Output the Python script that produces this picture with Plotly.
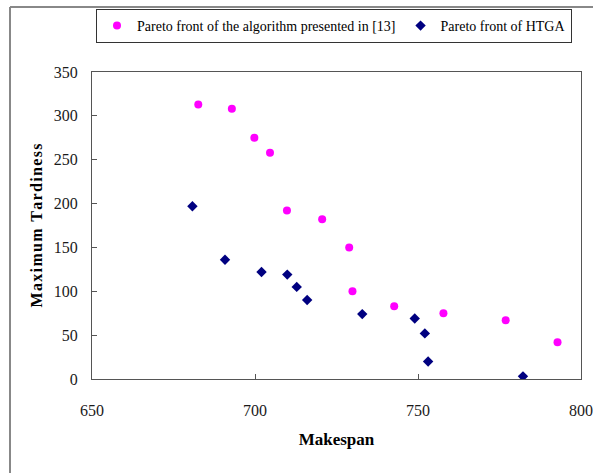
import plotly.graph_objects as go

# Data
algo13_makespan = [682.6, 692.9, 699.8, 704.6, 709.8, 720.6, 728.9, 729.9, 742.7, 757.8, 776.9, 792.8]
algo13_tardiness = [313, 308, 275, 258, 192, 182, 150, 100, 83, 75, 67, 42]

htga_makespan = [680.8, 690.8, 702.0, 709.9, 712.8, 716.0, 732.9, 749.0, 752.1, 753.1, 782.2]
htga_tardiness = [197, 136, 122, 119, 105, 90, 74, 69, 52, 20, 3]

x_ticks = [650, 700, 750, 800]
y_ticks = [0, 50, 100, 150, 200, 250, 300, 350]

series_names = ["Pareto front of the algorithm presented in [13]", "Pareto front of HTGA"]

SERIF = "Liberation Serif, Times New Roman, serif"

fig = go.Figure()
fig.add_trace(go.Scatter(
    x=algo13_makespan, y=algo13_tardiness, mode="markers", name=series_names[0],
    marker=dict(symbol="circle", size=8, color="#FF00FF", line=dict(width=0)),
))
fig.add_trace(go.Scatter(
    x=htga_makespan, y=htga_tardiness, mode="markers", name=series_names[1],
    marker=dict(symbol="diamond", size=8, color="#000080", line=dict(width=0)),
))

L, R, T, B = 92, 12, 72, 94
W, H = 593, 473
pw, ph = W - L - R, H - T - B

def px2x(p):
    return (p - L) / pw

def py2y(p):
    return 1 + (T - p) / ph

hs = "\u200a"
ytitle = hs.join("Maximum") + hs + " " + hs + hs.join("Tardiness")

fig.update_layout(
    width=W, height=H,
    margin=dict(l=L, r=R, t=T, b=B, autoexpand=False),
    paper_bgcolor="white", plot_bgcolor="white",
    font=dict(family=SERIF, size=16, color="#1a1a1a"),
    showlegend=True,
    legend=dict(
        orientation="h", x=px2x(96), xanchor="left", y=py2y(9), yanchor="top",
        bgcolor="white", bordercolor="#333333", borderwidth=1,
        font=dict(family=SERIF, size=14, color="#000000"),
        itemwidth=30, tracegroupgap=0,
    ),
    xaxis=dict(
        range=[650, 800], tickvals=x_ticks, ticktext=[str(v) for v in x_ticks],
        showgrid=False, zeroline=False, showline=True, linecolor="#555555", linewidth=1,
        mirror=True, ticks="inside", ticklen=5, tickcolor="#555555",
        ticklabelstandoff=17,
        title=dict(text="<b>Makespan</b>", font=dict(family=SERIF, size=17, color="#000000"), standoff=14),
        automargin=False,
    ),
    yaxis=dict(
        range=[0, 350], tickvals=y_ticks, ticktext=[str(v) for v in y_ticks],
        showgrid=False, zeroline=False, showline=True, linecolor="#555555", linewidth=1,
        mirror=True, ticks="inside", ticklen=5, tickcolor="#555555",
        ticklabelstandoff=10,
        title=dict(text="<b>" + ytitle + "</b>", font=dict(family=SERIF, size=16, color="#000000"), standoff=7),
        automargin=False,
    ),
    shapes=[
        dict(type="line", xref="paper", yref="paper", x0=px2x(10), x1=px2x(10), y0=py2y(480), y1=py2y(7),
             line=dict(color="#888888", width=2)),
        dict(type="line", xref="paper", yref="paper", x0=px2x(10), x1=px2x(600), y0=py2y(7), y1=py2y(7),
             line=dict(color="#888888", width=2)),
    ],
)

fig.write_html("out.html")
